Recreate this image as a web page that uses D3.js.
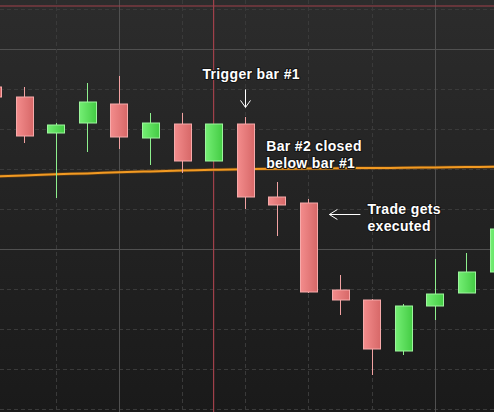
<!DOCTYPE html>
<html>
<head>
<meta charset="utf-8">
<script src="https://cdn.jsdelivr.net/npm/d3@7"></script>
<style>
  html, body { margin: 0; padding: 0; background: #222; }
  svg { display: block; }
</style>
</head>
<body>
<svg id="chart" width="494" height="412"></svg>
<script>
// ---- data ----
const barIndex = [0, 1, 2, 3, 4, 5, 6, 7, 8, 9, 10, 11, 12, 13, 14, 15, 16];
const open  = [140.5, 138,    129,    131.5, 136.25, 127.75, 131.25, 122,    131.25, 113,    111.5, 89.75, 87.25, 74.5,  85.75, 89,    94.25];
const high  = [141,   140.5,  131.5,  141.5, 143.25, 134,    134,    131.25, 133,    116.75, 112.5, 93.5,  87.5,  86.25, 97.5,  99,    107];
const low   = [137.5, 126.5,  112.75, 124.25, 125,   121,    119,    122,    110,    103.25, 89,    83.5,  68.5,  73.5,  82.25, 89,    93];
const close = [138,   128.25, 131,    136.75, 128,   131.5,  122,    131.25, 113,    111,    89.25, 87.25, 75,    85.75, 88.75, 94.25, 105];
const movingAvg = [118.1, 118.4, 118.7, 118.9, 119.2, 119.4, 119.6, 119.8, 119.95, 120.05, 120.1, 120.2, 120.25, 120.3, 120.4, 120.5, 120.55];
const priceTicks = [60, 70, 80, 90, 100, 110, 120, 130, 140, 150, 160];
const majorPriceTicks = [100, 150];
const gridBars = [2, 4, 6, 8, 10, 12, 14, 16];
const majorGridBars = [4, 14];
const crosshairBar = 7;
const crosshairPrice = 160.75;
const annotations = [
  { lines: ["Trigger bar #1"], bar: 8, price: 142.5, anchor: "middle", dx: 6 },
  { lines: ["Bar #2 closed", "below bar #1"], bar: 8, price: 124.5, anchor: "start", dx: 21 },
  { lines: ["Trade gets", "executed"], bar: 10, price: 108.75, anchor: "start", dx: 59 }
];

// ---- setup ----
const W = 494, H = 412;
const svg = d3.select("#chart");
const x = d3.scaleLinear().domain([0, 16]).range([-7.6, 498]);
const y = d3.scaleLinear().domain([59.25, 162.25]).range([H, 0]);
const bodyW = 17;

const defs = svg.append("defs");
const bg = defs.append("linearGradient").attr("id", "bg").attr("x1", 0).attr("y1", 0).attr("x2", 0).attr("y2", 1);
bg.append("stop").attr("offset", "0%").attr("stop-color", "#2c2c2c");
bg.append("stop").attr("offset", "100%").attr("stop-color", "#1a1a1a");
const gRed = defs.append("linearGradient").attr("id", "gRed");
gRed.append("stop").attr("offset", "0%").attr("stop-color", "#f38c8c");
gRed.append("stop").attr("offset", "100%").attr("stop-color", "#d76868");
const gGreen = defs.append("linearGradient").attr("id", "gGreen");
gGreen.append("stop").attr("offset", "0%").attr("stop-color", "#74ee74");
gGreen.append("stop").attr("offset", "100%").attr("stop-color", "#44cc44");

svg.append("rect").attr("width", W).attr("height", H).attr("fill", "url(#bg)");

// ---- grid via axes ----
const yGrid = svg.append("g").attr("class", "ygrid")
  .call(d3.axisLeft(y).tickValues(priceTicks).tickSize(-W).tickFormat(""));
yGrid.select(".domain").remove();
yGrid.selectAll(".tick line")
  .attr("stroke", d => majorPriceTicks.includes(d) ? "#505050" : "#3a3a3a")
  .attr("stroke-dasharray", d => majorPriceTicks.includes(d) ? null : "4,3")
  .attr("shape-rendering", "crispEdges");

const xGrid = svg.append("g").attr("class", "xgrid")
  .call(d3.axisTop(x).tickValues(gridBars).tickSize(-H).tickFormat(""));
xGrid.select(".domain").remove();
xGrid.selectAll(".tick line")
  .attr("stroke", d => majorGridBars.includes(d) ? "#505050" : "#3a3a3a")
  .attr("stroke-dasharray", d => majorGridBars.includes(d) ? null : "4,3")
  .attr("shape-rendering", "crispEdges");

// ---- crosshair ----
svg.append("line")
  .attr("x1", x(crosshairBar)).attr("x2", x(crosshairBar))
  .attr("y1", 0).attr("y2", H)
  .attr("stroke", "#a0404a").attr("stroke-width", 1.2);
svg.append("line")
  .attr("x1", 0).attr("x2", W)
  .attr("y1", y(crosshairPrice)).attr("y2", y(crosshairPrice))
  .attr("stroke", "#a0404a").attr("stroke-width", 1.2);

// ---- moving average ----
const maLine = d3.line().x((d, i) => x(barIndex[i])).y(d => y(d)).curve(d3.curveMonotoneX);
svg.append("path").datum(movingAvg)
  .attr("d", maLine).attr("fill", "none")
  .attr("stroke", "#7a4a10").attr("stroke-width", 3.5).attr("opacity", 0.6);
svg.append("path").datum(movingAvg)
  .attr("d", maLine).attr("fill", "none")
  .attr("stroke", "#f29a22").attr("stroke-width", 2);

// ---- candles ----
const candles = barIndex.map((b, i) => ({ b, o: open[i], h: high[i], l: low[i], c: close[i], up: close[i] >= open[i] }));
const cg = svg.append("g").selectAll("g").data(candles).join("g");
cg.append("line")
  .attr("x1", d => Math.round(x(d.b)) + 0.5).attr("x2", d => Math.round(x(d.b)) + 0.5)
  .attr("y1", d => y(d.h)).attr("y2", d => y(d.l))
  .attr("stroke", d => d.up ? "#8ef08e" : "#f2a2a2").attr("stroke-width", 1);
cg.append("rect")
  .attr("x", d => Math.round(x(d.b) - bodyW / 2) + 0.5)
  .attr("y", d => y(Math.max(d.o, d.c)))
  .attr("width", bodyW)
  .attr("height", d => Math.max(1, Math.abs(y(d.o) - y(d.c))))
  .attr("fill", d => d.up ? "url(#gGreen)" : "url(#gRed)")
  .attr("stroke", d => d.up ? "#9ef59e" : "#f6aaaa").attr("stroke-width", 1);

// ---- annotations ----
const ag = svg.append("g")
  .attr("font-family", "'Liberation Sans', Arial, sans-serif")
  .attr("font-weight", "bold").attr("font-size", 14)
  .attr("letter-spacing", "0.35px")
  .attr("fill", "#ffffff")
  .attr("stroke", "#151515").attr("stroke-width", 2.2)
  .attr("paint-order", "stroke").attr("stroke-linejoin", "round");
annotations.forEach(a => {
  const t = ag.append("text")
    .attr("x", x(a.bar) + a.dx).attr("y", y(a.price))
    .attr("text-anchor", a.anchor);
  a.lines.forEach((ln, k) => {
    t.append("tspan").attr("x", x(a.bar) + a.dx).attr("dy", k === 0 ? 0 : 17).text(ln);
  });
});

// arrows
const arrowColor = "#ffffff";
// down arrow above trigger bar
const ax = Math.round(x(8)) + 0.5;
const aTop = y(139.9), aBot = y(135.4);
svg.append("line").attr("x1", ax).attr("x2", ax).attr("y1", aTop).attr("y2", aBot)
  .attr("stroke", arrowColor).attr("stroke-width", 1);
svg.append("path")
  .attr("d", `M${ax - 5},${aBot - 7}L${ax},${aBot}L${ax + 5},${aBot - 7}`)
  .attr("fill", "none").attr("stroke", arrowColor).attr("stroke-width", 1);
// left arrow pointing at trade bar
const lx1 = x(10) + 21, lx2 = x(10) + 52, ly = Math.round(y(108.75)) + 0.5;
svg.append("line").attr("x1", lx1).attr("x2", lx2).attr("y1", ly).attr("y2", ly)
  .attr("stroke", arrowColor).attr("stroke-width", 1);
svg.append("path")
  .attr("d", `M${lx1 + 8},${ly - 5}L${lx1},${ly}L${lx1 + 8},${ly + 5}`)
  .attr("fill", "none").attr("stroke", arrowColor).attr("stroke-width", 1);
</script>
</body>
</html>
